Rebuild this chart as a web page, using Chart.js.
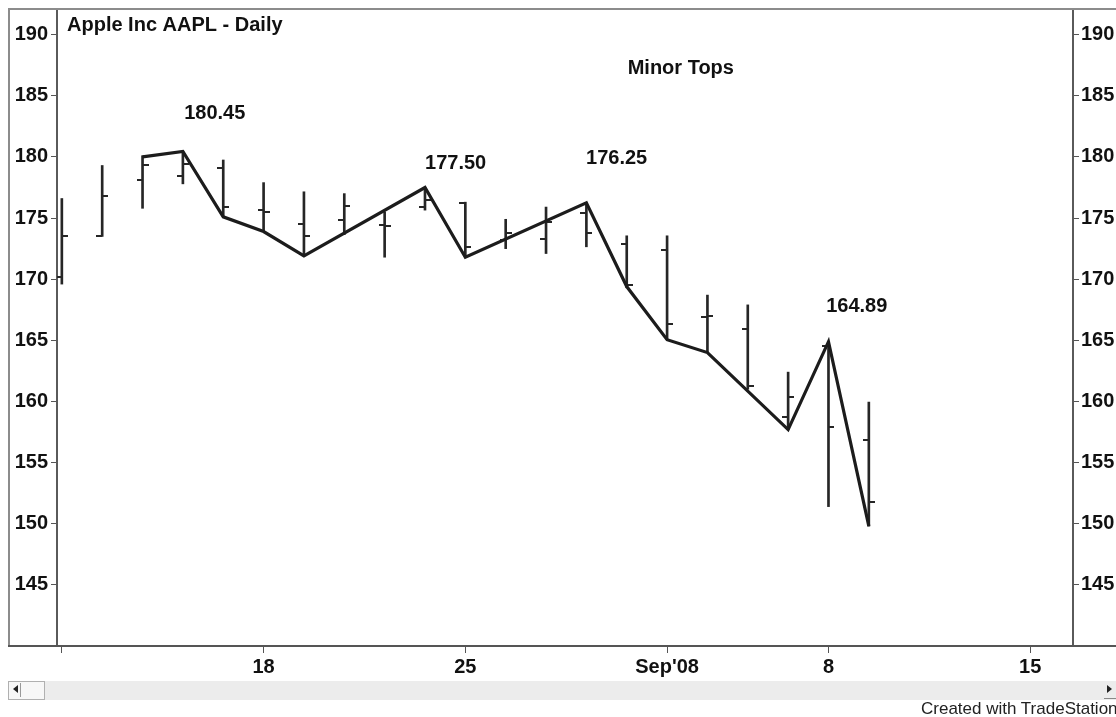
<!DOCTYPE html>
<html>
<head>
<meta charset="utf-8">
<script src="https://cdn.jsdelivr.net/npm/chart.js@4/dist/chart.umd.min.js"></script>
<style>
html,body{margin:0;padding:0;background:#fff;}
#wrap{position:relative;width:1116px;height:717px;overflow:hidden;font-family:"Liberation Sans",Arial,sans-serif;}
#c{position:absolute;left:0;top:0;}
#scroll{position:absolute;left:8px;top:681px;width:1108px;height:19px;background:#ececec;}
#btnL{position:absolute;left:8px;top:681px;width:37px;height:19px;border:1px solid #b0b0b0;background:#f7f7f7;box-sizing:border-box;}
#arrL{position:absolute;left:13px;top:685px;width:0;height:0;border-top:4px solid transparent;border-bottom:4px solid transparent;border-right:5px solid #222;}
#arrLbar{position:absolute;left:20px;top:683px;width:1px;height:14px;background:#999;}
#arrR{position:absolute;left:1107px;top:685px;width:0;height:0;border-top:4px solid transparent;border-bottom:4px solid transparent;border-left:5px solid #222;}
#arrRline{position:absolute;left:1104px;top:698px;width:12px;height:1px;background:#888;}
#foot{position:absolute;left:921px;top:699px;font-size:17px;color:#222;white-space:nowrap;}
</style>
</head>
<body>
<div id="wrap">
<canvas id="c" width="1116" height="717"></canvas>
<div id="scroll"></div>
<div id="btnL"></div>
<div id="arrL"></div>
<div id="arrLbar"></div>
<div id="arrR"></div>
<div id="arrRline"></div>
<div id="foot">Created with TradeStation</div>
</div>
<script>
// ---- data ----
const dates = ['Aug 11','Aug 12','Aug 13','Aug 14','Aug 15','Aug 18','Aug 19','Aug 20','Aug 21','Aug 22',
  'Aug 25','Aug 26','Aug 27','Aug 28','Aug 29','Sep 2','Sep 3','Sep 4','Sep 5','Sep 8','Sep 9'];
const openP  = [170.2, 173.5, 178.1, 178.45, 179.1, 175.65, 174.55, 174.85, 174.4, 175.9,
  176.2, 173.2, 173.3, 175.4, 172.9, 172.4, 166.9, 165.95, 158.7, 164.5, 156.85];
const highP  = [176.6, 179.3, 180.1, 180.45, 179.75, 177.9, 177.15, 177.0, 175.5, 177.5,
  176.3, 174.9, 175.9, 176.25, 173.55, 173.55, 168.7, 167.9, 162.4, 164.89, 159.95];
const lowP   = [169.6, 173.5, 175.8, 177.8, 175.1, 173.9, 171.9, 173.65, 171.8, 175.65,
  171.8, 172.5, 172.1, 172.65, 169.3, 165.05, 164.0, 161.0, 157.7, 151.4, 149.8];
const closeP = [173.5, 176.8, 179.35, 179.4, 175.9, 175.5, 173.55, 176.0, 174.35, 176.5,
  172.65, 173.75, 174.7, 173.8, 169.55, 166.3, 167.0, 161.25, 160.35, 157.9, 151.75];
const swingLine = [null, null, 180.0, 180.45, 175.1, 173.9, 171.9, null, null, 177.5,
  171.8, null, null, 176.25, 169.4, 165.05, 164.0, null, 157.7, 164.89, 149.8];
const xTickIdx  = [0, 5, 10, 15, 19, 24];
const xTickText = ['', '18', '25', "Sep'08", '8', '15'];
const yTickVals = [145, 150, 155, 160, 165, 170, 175, 180, 185, 190];
const topLabels = ['180.45', '177.50', '176.25', '164.89'];
const topLabelAt = [[3.79, 183.53], [9.76, 179.43], [13.75, 179.84], [19.70, 167.75]];
const chartTitle = 'Apple Inc AAPL - Daily';
const noteText = 'Minor Tops';
const noteAt = [15.34, 187.2];

// ---- styles ----
const FONT = '"Liberation Sans", Arial, sans-serif';
const INK = '#262626';

function tickImg(side) {
  const c = document.createElement('canvas');
  c.width = 12; c.height = 2;
  const g = c.getContext('2d');
  g.fillStyle = INK;
  if (side === 'left') g.fillRect(0, 0, 6, 2); else g.fillRect(6, 0, 6, 2);
  return c;
}

const framePlugin = {
  id: 'frame',
  afterDraw(chart) {
    const { ctx, chartArea: a, scales } = chart;
    ctx.save();
    ctx.strokeStyle = '#8c8c8c';
    ctx.lineWidth = 2;
    ctx.beginPath(); ctx.moveTo(8, 9); ctx.lineTo(1116, 9); ctx.stroke();
    ctx.beginPath(); ctx.moveTo(9, 9); ctx.lineTo(9, a.bottom); ctx.stroke();
    ctx.strokeStyle = '#555';
    ctx.beginPath(); ctx.moveTo(8, a.bottom); ctx.lineTo(1116, a.bottom); ctx.stroke();

    ctx.fillStyle = '#111';
    ctx.font = 'bold 20px ' + FONT;
    ctx.textBaseline = 'middle';
    ctx.textAlign = 'left';
    ctx.fillText(chartTitle, a.left + 10, 25);
    ctx.textAlign = 'center';
    topLabels.forEach((t, i) => {
      ctx.fillText(t, scales.x.getPixelForValue(topLabelAt[i][0]), scales.y.getPixelForValue(topLabelAt[i][1]));
    });
    ctx.fillText(noteText, scales.x.getPixelForValue(noteAt[0]), scales.y.getPixelForValue(noteAt[1]));
    ctx.restore();
  }
};

const yCommon = (pos) => ({
  type: 'linear', position: pos, min: 140, max: 192.1,
  afterBuildTicks: s => { s.ticks = yTickVals.map(v => ({ value: v })); },
  ticks: { color: '#111', font: { family: FONT, size: 20, weight: 'bold' }, padding: pos === 'left' ? 3 : 2 },
  grid: { drawOnChartArea: false, drawTicks: true, tickLength: 6, color: '#555', lineWidth: 1, offset: false },
  border: { display: true, color: '#5a5a5a', width: 2 },
  afterFit: s => { s.width = pos === 'left' ? 57 : 43; s.paddingTop = 0; s.paddingBottom = 0; }
});

new Chart(document.getElementById('c'), {
  type: 'bar',
  data: {
    datasets: [
      {
        type: 'line', label: 'Swing', order: 1,
        data: swingLine.map((v, i) => ({ x: i, y: v })),
        borderColor: '#1c1c1c', borderWidth: 3.2, pointRadius: 0, tension: 0, spanGaps: true,
        borderJoinStyle: 'miter'
      },
      {
        type: 'line', label: 'Open', order: 2, showLine: false,
        data: openP.map((v, i) => ({ x: i, y: v })),
        pointStyle: tickImg('left'), pointRadius: 6
      },
      {
        type: 'line', label: 'Close', order: 2, showLine: false,
        data: closeP.map((v, i) => ({ x: i, y: v })),
        pointStyle: tickImg('right'), pointRadius: 6
      },
      {
        type: 'bar', label: 'Range', order: 3,
        data: dates.map((d, i) => ({ x: i, y: [lowP[i], highP[i]] })),
        backgroundColor: INK, borderWidth: 0, barThickness: 2
      }
    ]
  },
  options: {
    responsive: false, animation: false,
    layout: { padding: { top: 9, bottom: 37, left: 0, right: 0 } },
    plugins: { legend: { display: false }, tooltip: { enabled: false } },
    scales: {
      x: {
        type: 'linear', min: -0.12, max: 25.06, offset: false,
        afterBuildTicks: s => { s.ticks = xTickIdx.map(v => ({ value: v })); },
        ticks: {
          callback: (v, i) => xTickText[i], color: '#111', autoSkip: false, maxRotation: 0,
          font: { family: FONT, size: 20, weight: 'bold' }, padding: 2
        },
        grid: { drawOnChartArea: false, drawTicks: true, tickLength: 7, color: '#555', lineWidth: 1, offset: false },
        border: { display: true, color: '#555', width: 2 },
        afterFit: s => { s.height = 34; s.paddingLeft = 0; s.paddingRight = 0; }
      },
      y: yCommon('left'),
      y2: yCommon('right')
    }
  },
  plugins: [framePlugin]
});
</script>
</body>
</html>
